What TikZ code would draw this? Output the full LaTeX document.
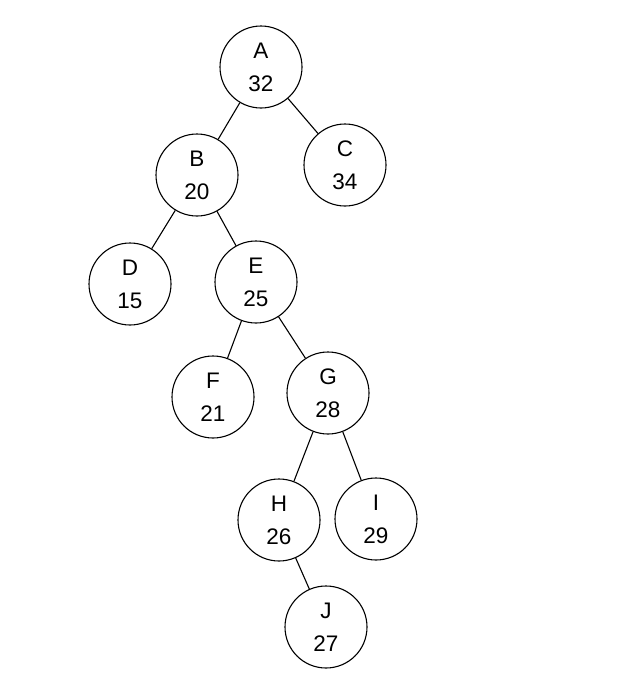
\documentclass[tikz,border=0pt]{standalone}
\usepackage{fontspec}
\setmainfont{Liberation Sans}
\usepackage{xcolor}
\usepackage{tikz}
\usetikzlibrary{positioning}
\tikzset{
  treenode/.style={circle, draw=black, line width=1.1pt, fill=white, inner sep=0pt, minimum size=82pt, align=center, font=\fontsize{22.5}{33}\selectfont},
  treeedge/.style={draw=black, line width=1.1pt}
}

\begin{document}
\begin{tikzpicture}[x=1pt, y=-1pt]
\useasboundingbox (0,0) rectangle (630,678);
\node[treenode] (a) at (261,67) {A\\32};
\node[treenode] (b) at (197,175) {B\\20};
\node[treenode] (c) at (345,165) {C\\34};
\node[treenode] (d) at (130,284) {D\\15};
\node[treenode] (e) at (256,282) {E\\25};
\node[treenode] (f) at (213,397) {F\\21};
\node[treenode] (g) at (328,393) {G\\28};
\node[treenode] (h) at (279,520) {H\\26};
\node[treenode] (i) at (376,519) {I\\29};
\node[treenode] (j) at (326,627) {J\\27};
\draw[treeedge] (a) -- (b);
\draw[treeedge] (a) -- (c);
\draw[treeedge] (b) -- (d);
\draw[treeedge] (b) -- (e);
\draw[treeedge] (e) -- (f);
\draw[treeedge] (e) -- (g);
\draw[treeedge] (g) -- (h);
\draw[treeedge] (g) -- (i);
\draw[treeedge] (h) -- (j);
\end{tikzpicture}
\end{document}
